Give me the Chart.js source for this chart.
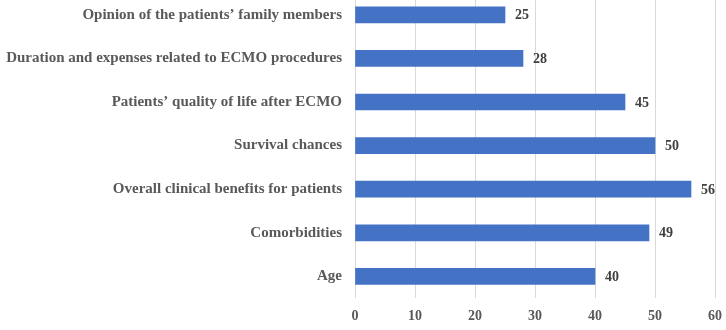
<!DOCTYPE html>
<html lang="en">
<head>
    <meta charset="UTF-8">
    <script src="https://cdn.jsdelivr.net/npm/chart.js"></script>
    <style>
        html, body { margin: 0; padding: 0; background: #fff; overflow: hidden; }
        .chart-container {
            position: absolute;
            left: 0;
            top: -29px;
            width: 732px;
            height: 372px;
        }
    </style>
    <title>ECMO decision factors</title>
</head>
<body>
    <div class="chart-container">
        <canvas id="factorChart"></canvas>
    </div>
    <script>
        // Categories, top to bottom
        const categories = [
            'Opinion of the patients\u2019 family members',
            'Duration and expenses related to ECMO procedures',
            'Patients\u2019 quality of life after ECMO',
            'Survival chances',
            'Overall clinical benefits for patients',
            'Comorbidities',
            'Age'
        ];
        const values = [25, 28, 45, 50, 56, 49, 40];
        const xTicks = [0, 10, 20, 30, 40, 50, 60];

        const serif = "'Liberation Serif', 'Times New Roman', serif";

        // draws the number just right of each bar
        const valueLabels = {
            id: 'valueLabels',
            afterDatasetsDraw(chart) {
                const ctx = chart.ctx;
                const meta = chart.getDatasetMeta(0);
                ctx.save();
                ctx.font = 'bold 14px ' + serif;
                ctx.fillStyle = '#404040';
                ctx.textAlign = 'left';
                ctx.textBaseline = 'middle';
                meta.data.forEach((bar, i) => {
                    ctx.fillText(values[i], bar.x + 10, bar.y + 1);
                });
                ctx.restore();
            }
        };

        new Chart(document.getElementById('factorChart'), {
            type: 'bar',
            data: {
                labels: categories,
                datasets: [{
                    data: values,
                    backgroundColor: '#4472C4',
                    borderWidth: 0,
                    barThickness: 16
                }]
            },
            options: {
                indexAxis: 'y',
                responsive: true,
                maintainAspectRatio: false,
                animation: false,
                layout: { padding: { top: 0, right: 3, bottom: 8, left: 0 } },
                plugins: {
                    legend: { display: false },
                    tooltip: { enabled: false }
                },
                scales: {
                    x: {
                        min: 0,
                        max: 60,
                        afterBuildTicks(scale) {
                            scale.ticks = xTicks.map(v => ({ value: v }));
                        },
                        grid: { color: '#d9d9d9', drawTicks: false },
                        border: { display: false },
                        ticks: {
                            padding: 10,
                            color: '#595959',
                            font: { family: serif, size: 14, weight: 'bold' }
                        }
                    },
                    y: {
                        afterFit(scale) { scale.width = 355; },
                        grid: { display: false, drawTicks: false },
                        border: { display: false },
                        ticks: {
                            padding: 13,
                            color: '#595959',
                            font: { family: serif, size: 15, weight: 'bold' }
                        }
                    }
                }
            },
            plugins: [valueLabels]
        });
    </script>
</body>
</html>
